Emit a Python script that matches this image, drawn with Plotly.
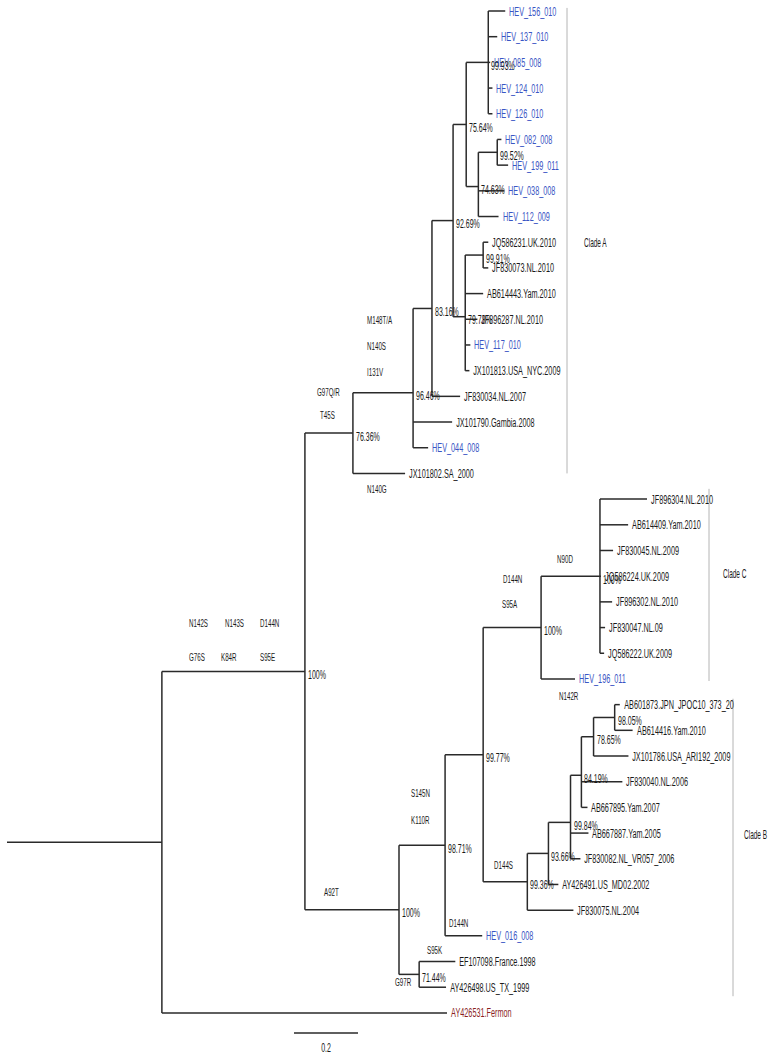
import plotly.graph_objects as go

# ---------------- data ----------------
TIP_NAMES = [
    "HEV_156_010", "HEV_137_010", "HEV_085_008", "HEV_124_010", "HEV_126_010",
    "HEV_082_008", "HEV_199_011", "HEV_038_008", "HEV_112_009",
    "JQ586231.UK.2010", "JF830073.NL.2010", "AB614443.Yam.2010", "JF896287.NL.2010",
    "HEV_117_010", "JX101813.USA_NYC.2009", "JF830034.NL.2007", "JX101790.Gambia.2008",
    "HEV_044_008", "JX101802.SA_2000",
    "JF896304.NL.2010", "AB614409.Yam.2010", "JF830045.NL.2009", "JQ586224.UK.2009",
    "JF896302.NL.2010", "JF830047.NL.09", "JQ586222.UK.2009", "HEV_196_011",
    "AB601873.JPN_JPOC10_373_20", "AB614416.Yam.2010", "JX101786.USA_ARI192_2009",
    "JF830040.NL.2006", "AB667895.Yam.2007", "AB667887.Yam.2005", "JF830082.NL_VR057_2006",
    "AY426491.US_MD02.2002", "JF830075.NL.2004", "HEV_016_008", "EF107098.France.1998",
    "AY426498.US_TX_1999", "AY426531.Fermon",
]
TIP_PARENTS = [
    "n9993", "n9993", "n9993", "n9993", "n9993",
    "n9952", "n9952", "n7463", "n7463",
    "n9991", "n9991", "n7978", "n7978",
    "n7978", "n7978", "n8316", "n9646",
    "n9646", "n7636",
    "cpoly", "cpoly", "cpoly", "cpoly",
    "cpoly", "cpoly", "cpoly", "c100",
    "n9805", "n9805", "n7865",
    "n8419", "n8419", "n9984", "n9984",
    "n9366", "d144s", "n9871", "n7144",
    "n7144", "root",
]
TIP_BRANCH = [
    0.053, 0.028, 0.006, 0.013, 0.013,
    0.013, 0.034, 0.081, 0.063,
    0.016, 0.016, 0.056, 0.038,
    0.016, 0.013, 0.088, 0.122,
    0.047, 0.163,
    0.147, 0.088, 0.041, 0.003,
    0.038, 0.016, 0.013, 0.106,
    0.016, 0.056, 0.109,
    0.128, 0.019, 0.056, 0.031,
    0.031, 0.144, 0.116, 0.113,
    0.084, 0.891,
]

NODE_IDS = ["root", "in", "n7636", "n9646", "n8316", "n9269", "n7564", "n9993",
            "n7463", "n9952", "n7978", "n9991",
            "a92", "n9871", "n9977", "c100", "cpoly", "d144s", "n9366", "n9984",
            "n8419", "n7865", "n9805", "n7144"]
NODE_PARENTS = [None, "root", "in", "n7636", "n9646", "n8316", "n9269", "n7564",
                "n7564", "n7463", "n9269", "n7978",
                "in", "a92", "n9871", "n9977", "c100", "n9977", "d144s", "n9366",
                "n9984", "n8419", "n7865", "a92"]
NODE_BRANCH = [0.484, 0.447, 0.150, 0.188, 0.059, 0.066, 0.041, 0.069,
               0.038, 0.059, 0.038, 0.056,
               0.294, 0.144, 0.119, 0.181, 0.184, 0.138, 0.066, 0.069,
               0.034, 0.038, 0.066, 0.063]
NODE_SUPPORT = ["", "100%", "76.36%", "96.46%", "83.16%", "92.69%", "75.64%", "99.93%",
                "74.63%", "99.52%", "79.78%", "99.91%",
                "100%", "98.71%", "99.77%", "100%", "100%", "99.36%", "93.66%", "99.84%",
                "84.19%", "78.65%", "98.05%", "71.44%"]

MUTATIONS = ["M148T/A", "N140S", "I131V", "G97Q/R", "T45S", "N140G",
             "N142S", "N143S", "D144N", "G76S", "K84R", "S95E",
             "N90D", "D144N", "S95A", "N142R",
             "S145N", "K110R", "A92T", "D144S", "D144N", "S95K", "G97R"]

CLADES = ["Clade A", "Clade C", "Clade B"]
CLADE_FIRST_TIP = ["HEV_156_010", "JF896304.NL.2010", "AB601873.JPN_JPOC10_373_20"]
CLADE_LAST_TIP = ["JX101802.SA_2000", "HEV_196_011", "AY426498.US_TX_1999"]

SCALE_LEN = 0.2
SCALE_LABEL = "0.2"

# ---------------- layout / style ----------------
W, H = 773, 1060
PX_PER_UNIT = 320.0
X0_PX = 7.0
TIP0_PX = 11.0
TIP_STEP_PX = 25.69

FONT = "Liberation Sans, Arial, sans-serif"
TEXT_SQUEEZE = 0.54          # the reference uses a very condensed face
BLUE = "#3a55c4"
RED = "#8b1f1f"
BLACK = "#1a1a1a"
LINE = "#2a2a2a"
GREY = "#b4b4b4"

MUT_POS = [(366, 320), (366, 346), (366, 372), (316, 392), (319, 415), (366, 489),
           (188, 623), (224, 623), (259, 623), (188, 657), (220, 657), (259, 657),
           (556, 559), (502, 579), (501, 604), (558, 696),
           (410, 793), (410, 820), (323, 892), (493, 865), (448, 923), (426, 950), (394, 982)]
CLADE_X_PX = [567, 709, 733]
CLADE_EXT = [(-0.12, 0.0), (-0.4, -0.08), (-0.23, -0.35)]
CLADE_LABEL_PX = [(583, 243), (722, 574), (743, 835)]
SCALE_POS = (294, 1033)

# ---------------- build tree geometry ----------------
parent = {}
blen = {}
for n, p, b in zip(NODE_IDS, NODE_PARENTS, NODE_BRANCH):
    parent[n] = p
    blen[n] = b
for n, p, b in zip(TIP_NAMES, TIP_PARENTS, TIP_BRANCH):
    parent[n] = p
    blen[n] = b

children = {n: [] for n in NODE_IDS}
for n in NODE_IDS + TIP_NAMES:
    if parent[n] is not None:
        children[parent[n]].append(n)

xpos = {}


def set_x(n):
    if n in xpos:
        return xpos[n]
    p = parent[n]
    xpos[n] = blen[n] + (0.0 if p is None else set_x(p))
    return xpos[n]


for n in NODE_IDS + TIP_NAMES:
    set_x(n)

ypos = {name: i for i, name in enumerate(TIP_NAMES)}


def set_y(n):
    if n in ypos:
        return ypos[n]
    ys = [set_y(c) for c in children[n]]
    ypos[n] = sum(ys) / len(ys)
    return ypos[n]


set_y("root")

lx, ly = [], []
lx += [0.0, xpos["root"], None]
ly += [ypos["root"], ypos["root"], None]
for n in NODE_IDS + TIP_NAMES:
    p = parent[n]
    if p is not None:
        lx += [xpos[p], xpos[n], None]
        ly += [ypos[n], ypos[n], None]
for n in NODE_IDS:
    cy = [ypos[c] for c in children[n]]
    lx += [xpos[n], xpos[n], None]
    ly += [min(cy), max(cy), None]

fig = go.Figure()
fig.add_trace(go.Scatter(x=lx, y=ly, mode="lines",
                         line=dict(color=LINE, width=1.5),
                         hoverinfo="skip", showlegend=False))

for i, name in enumerate(CLADES):
    y1 = ypos[CLADE_FIRST_TIP[i]] + CLADE_EXT[i][0]
    y2 = ypos[CLADE_LAST_TIP[i]] - CLADE_EXT[i][1]
    xb = (CLADE_X_PX[i] - X0_PX) / PX_PER_UNIT
    fig.add_trace(go.Scatter(x=[xb, xb], y=[y1, y2], mode="lines",
                             line=dict(color=GREY, width=1),
                             hoverinfo="skip", showlegend=False))

sx0 = (SCALE_POS[0] - X0_PX) / PX_PER_UNIT
sy = (SCALE_POS[1] - TIP0_PX) / TIP_STEP_PX
fig.add_trace(go.Scatter(x=[sx0, sx0 + SCALE_LEN], y=[sy, sy], mode="lines",
                         line=dict(color=LINE, width=1.5),
                         hoverinfo="skip", showlegend=False))

ann = []
for name in TIP_NAMES:
    if name.startswith("HEV_"):
        col = BLUE
    elif name.endswith("Fermon"):
        col = RED
    else:
        col = BLACK
    ann.append(dict(x=xpos[name], y=ypos[name], text=name, showarrow=False,
                    xanchor="left", yanchor="middle", xshift=2,
                    font=dict(family=FONT, size=13.5, color=col)))
for n, s in zip(NODE_IDS, NODE_SUPPORT):
    if s:
        ann.append(dict(x=xpos[n], y=ypos[n], text=s, showarrow=False,
                        xanchor="left", yanchor="middle", xshift=1, yshift=-3,
                        font=dict(family=FONT, size=13, color=BLACK)))
for t, (px, py) in zip(MUTATIONS, MUT_POS):
    ann.append(dict(x=px / W, y=1 - py / H, xref="paper", yref="paper", text=t,
                    showarrow=False, xanchor="left", yanchor="middle", xshift=-1,
                    font=dict(family=FONT, size=11.5, color=BLACK)))
for t, (px, py) in zip(CLADES, CLADE_LABEL_PX):
    ann.append(dict(x=px / W, y=1 - py / H, xref="paper", yref="paper", text=t,
                    showarrow=False, xanchor="left", yanchor="middle", xshift=-1,
                    font=dict(family=FONT, size=12, color=BLACK)))
ann.append(dict(x=sx0 + SCALE_LEN / 2, y=sy, text=SCALE_LABEL, showarrow=False,
                xanchor="center", yanchor="top", yshift=-5,
                font=dict(family=FONT, size=13, color=BLACK)))

x_lo = -X0_PX / PX_PER_UNIT
x_hi = (W - X0_PX) / PX_PER_UNIT
y_top = -TIP0_PX / TIP_STEP_PX
y_bot = (H - TIP0_PX) / TIP_STEP_PX

fig.update_layout(
    width=W, height=H,
    margin=dict(l=0, r=0, t=0, b=0),
    paper_bgcolor="white", plot_bgcolor="white",
    xaxis=dict(range=[x_lo, x_hi], visible=False, fixedrange=True),
    yaxis=dict(range=[y_bot, y_top], visible=False, fixedrange=True),
    annotations=ann,
    showlegend=False,
)

squeeze_js = (
    "document.body.style.margin='0';document.body.style.overflow='hidden';"
    "document.querySelectorAll('text.annotation-text').forEach(function(t){"
    "t.style.transformBox='fill-box';"
    "t.style.transformOrigin=(t.textContent==='%s')?'center center':'left center';"
    "t.style.transform='scaleX(%s)';});" % (SCALE_LABEL, TEXT_SQUEEZE)
)

fig.write_html("out.html", config={"displayModeBar": False}, post_script=squeeze_js)
